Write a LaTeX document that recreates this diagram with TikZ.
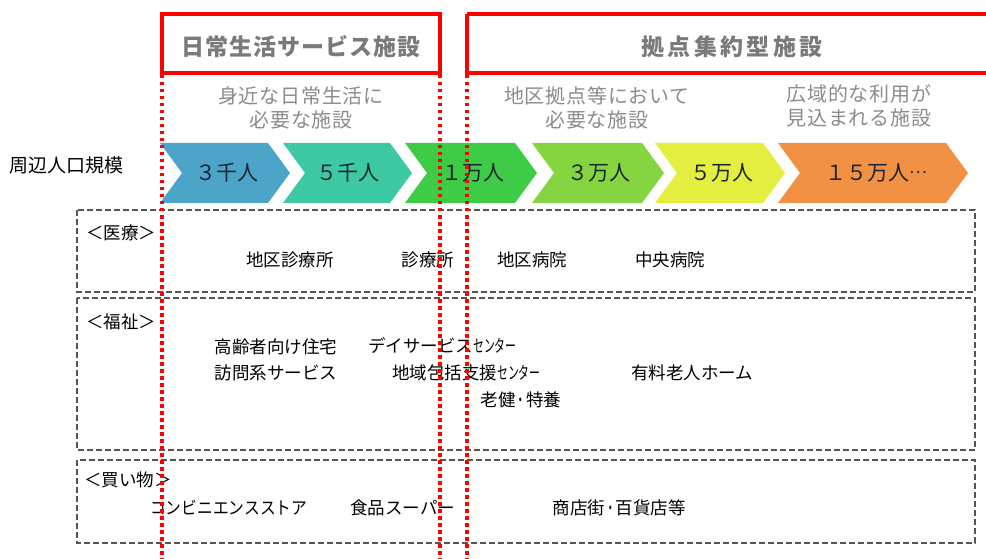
\documentclass[tikz,border=0pt]{standalone}
\usepackage{fontspec}
\setmainfont{Noto Sans CJK JP}
\usepackage{graphicx}
\definecolor{redline}{HTML}{FF0000}
\definecolor{titlegray}{HTML}{7A7A7A}
\definecolor{headgray}{HTML}{8C8C8C}
\definecolor{boxgray}{HTML}{555555}
\definecolor{chtext}{HTML}{1C2535}
\definecolor{ch1}{HTML}{4CA5C8}
\definecolor{ch2}{HTML}{3DC9A2}
\definecolor{ch3}{HTML}{3ECB46}
\definecolor{ch4}{HTML}{84D53F}
\definecolor{ch5}{HTML}{E4EE3E}
\definecolor{ch6}{HTML}{F29044}
\newcommand\chevshape[3]{%
  \fill[#3] (#1,143) -- (#2,143) -- (#2+22,173) -- (#2,203) -- (#1,203) -- (#1+22,173) -- cycle;}
\tikzset{
  redbox/.style={draw=redline, line width=3.5pt},
  reddot/.style={draw=redline, line width=3.5pt, dash pattern=on 3.5pt off 3.5pt},
  groupbox/.style={draw=boxgray, line width=1.1pt, dash pattern=on 6pt off 3pt},
  titletext/.style={text=titlegray, inner sep=0pt},
  headtext/.style={font=\fontsize{20}{24.5}\selectfont\addfontfeature{LetterSpace=4}, text=headgray, align=center, inner sep=0pt},
  chevtext/.style={font=\fontsize{21}{24}\selectfont, text=chtext, inner sep=0pt},
  itemtext/.style={font=\fontsize{17.5}{20}\selectfont, text=black, inner sep=0pt},
}
\begin{document}
\begin{tikzpicture}[x=1pt,y=-1pt]
\useasboundingbox[fill=white] (0,0) rectangle (986,559);
% title boxes
\draw[redbox] (162,14) rectangle (440,73);
\draw[redbox] (467,14) -- (992,14) (467,14) -- (467,73) -- (992,73);
\node[titletext, font=\fontsize{23}{26}\selectfont\bfseries\addfontfeature{LetterSpace=4}] (t1) at (301,47) {日常生活サービス施設};
\node[titletext, font=\fontsize{23}{26}\selectfont\bfseries\addfontfeature{LetterSpace=15}] (t2) at (732,47) {拠点集約型施設};
% header descriptions
\node[headtext] (h1) at (301,108) {身近な日常生活に\\必要な施設};
\node[headtext] (h2) at (597,108) {地区拠点等において\\必要な施設};
\node[headtext] (h3) at (859,106) {広域的な利用が\\見込まれる施設};
% population row
\node[itemtext, font=\fontsize{19}{22}\selectfont, anchor=west] (pop) at (9,165) {周辺人口規模};
\chevshape{160}{268}{ch1}
\chevshape{283}{390}{ch2}
\chevshape{405}{515}{ch3}
\chevshape{532}{642}{ch4}
\chevshape{655}{763}{ch5}
\chevshape{778}{946}{ch6}
\node[chevtext] (c1) at (227,173) {３千人};
\node[chevtext] (c2) at (348,173) {５千人};
\node[chevtext] (c3) at (473,173) {１万人};
\node[chevtext] (c4) at (599,173) {３万人};
\node[chevtext] (c5) at (722,173) {５万人};
\node[chevtext] (c6) at (876,173) {１５万人\raisebox{0.32em}{\scalebox{0.8}{…}}};
% group boxes
\draw[groupbox] (77,210) rectangle (975,292);
\draw[groupbox] (77,298) rectangle (975,450);
\draw[groupbox] (77,460) rectangle (975,543);
% medical
\node[itemtext, anchor=west] (g1) at (86,233) {＜医療＞};
\node[itemtext] (m1) at (290,260) {地区診療所};
\node[itemtext] (m2) at (428,260) {診療所};
\node[itemtext] (m3) at (532,260) {地区病院};
\node[itemtext] (m4) at (670,260) {中央病院};
% welfare
\node[itemtext, anchor=west] (g2) at (86,322) {＜福祉＞};
\node[itemtext] (w1) at (276,347) {高齢者向け住宅};
\node[itemtext, anchor=west] (w2) at (368,346) {デイサービス\scalebox{0.62}[1]{センター}};
\node[itemtext] (w3) at (276,373) {訪問系サービス};
\node[itemtext, anchor=west] (w4) at (392,373) {地域包括支援\scalebox{0.62}[1]{センター}};
\node[itemtext] (w5) at (521,400) {老健\scalebox{0.6}[1]{・}特養};
\node[itemtext] (w6) at (692,373) {有料老人ホーム};
% shopping
\node[itemtext, anchor=west] (g3) at (84,480) {＜買い物＞};
\node[itemtext, anchor=west] (s1) at (150,508) {\scalebox{0.9}[1]{コンビニエンスストア}};
\node[itemtext, anchor=west] (s2) at (350,508) {食品スーパー};
\node[itemtext] (s3) at (619,508) {商店街\scalebox{0.6}[1]{・}百貨店等};
% red dotted guides
\coordinate (d1t) at (162,75); \coordinate (d1b) at (162,559);
\coordinate (d2t) at (440,75); \coordinate (d2b) at (440,559);
\coordinate (d3t) at (467,75); \coordinate (d3b) at (467,559);
\draw[reddot] (d1t) -- (d1b);
\draw[reddot] (d2t) -- (d2b);
\draw[reddot] (d3t) -- (d3b);
\end{tikzpicture}
\end{document}
